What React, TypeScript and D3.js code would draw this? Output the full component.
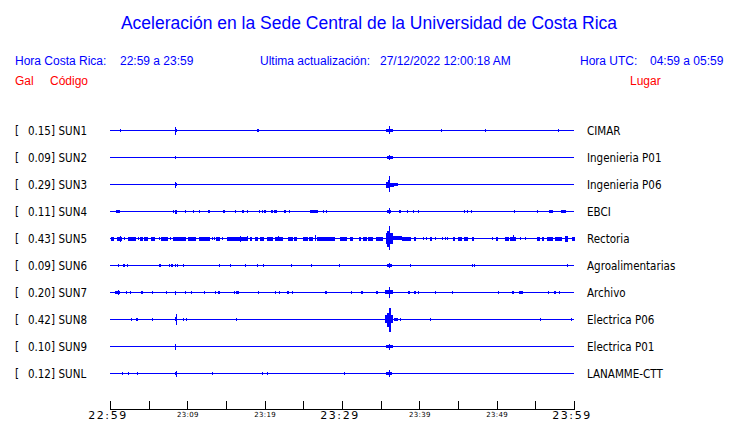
import React from "react";
import * as d3 from "d3";

const stations = ["SUN1", "SUN2", "SUN3", "SUN4", "SUN5", "SUN6", "SUN7", "SUN8", "SUN9", "SUNL"];
const peakGal = [0.15, 0.09, 0.29, 0.11, 0.43, 0.09, 0.2, 0.42, 0.1, 0.12];
const places = ["CIMAR", "Ingenieria P01", "Ingenieria P06", "EBCI", "Rectoria", "Agroalimentarias", "Archivo", "Electrica P06", "Electrica P01", "LANAMME-CTT"];
const tickMinutes = [0, 5, 10, 15, 20, 25, 30, 35, 40, 45, 50, 55, 60];
const tickLabels = ["22:59", "", "23:09", "", "23:19", "", "23:29", "", "23:39", "", "23:49", "", "23:59"];
const majorTicks = [0, 30, 60];

// events: [minutes after 22:59, amplitude (Gal), duration (minutes)]
type Ev = [number, number, number];
const sun1: Ev[] = [[1.34,0.04,0],[8.45,0.14,0],[8.6,0.05,0.15],[19.14,0.05,0.26],[35.9,0.06,0.3],[36.12,0.15,0.1],[36.3,0.06,0.5],[42.84,0.02,0],[48.53,0.05,0],[57.97,0.05,0]];
const sun2: Ev[] = [[8.45,0.04,0],[35.95,0.05,0.35],[36.12,0.09,0.12],[36.35,0.04,0.4]];
const sun3: Ev[] = [[8.45,0.1,0],[8.6,0.04,0.15],[35.9,0.1,0.5],[36.12,0.29,0.15],[36.1,0.15,0.3],[36.47,0.07,0.52],[36.98,0.04,0.52]];
const sun4: Ev[] = [[1.03,0.06,0.43],[8.1,0.05,0],[8.53,0.07,0.2],[9.74,0.02,0],[10.78,0.04,0],[11.47,0.04,0],[12.8,0.06,0.22],[14.74,0.06,0.22],[16.2,0.02,0],[17.24,0.06,0.26],[17.67,0.04,0],[19.31,0.04,0],[19.61,0.04,0],[19.87,0.04,0],[20.09,0.04,0],[20.9,0.06,0.26],[21.38,0.06,0.39],[22.63,0.06,0.26],[23.19,0.02,0],[26.34,0.06,1.03],[27.59,0.04,0],[27.89,0.04,0],[36.12,0.11,0.12],[36.1,0.06,0.6],[37.5,0.06,0.2],[38.49,0.05,0.2],[39.22,0.04,0],[39.83,0.04,0],[45.78,0.04,0],[46.12,0.04,0],[46.72,0.02,0],[52.33,0.06,0.2],[55.17,0.02,0],[56.98,0.06,0.5],[58.66,0.06,0.6]];
const sun5: Ev[] = [[0.3,0.07,0.34],[1.21,0.07,0.6],[1.25,0.1,0],[1.85,0.03,0],[2.84,0.07,1.03],[3.58,0.05,0],[4.09,0.07,0.34],[4.66,0.07,0.43],[5.54,0.07,0.56],[6.38,0.03,0],[7.07,0.07,0.95],[7.76,0.05,0],[8.97,0.07,1.64],[10.6,0.07,0.95],[12.22,0.07,1.5],[13.23,0.05,0],[13.45,0.05,0],[13.99,0.07,0.56],[14.53,0.05,0],[16.51,0.07,2.76],[16.85,0.1,0],[17.67,0.09,0],[18.23,0.07,0.17],[18.97,0.07,0.43],[19.68,0.07,0.56],[20.69,0.07,0.86],[21.88,0.07,1.08],[21.77,0.09,0],[23.38,0.07,0.65],[23.99,0.07,0.39],[25.28,0.07,0.56],[26.01,0.07,0.56],[26.51,0.11,0],[27.91,0.07,2.37],[30.09,0.07,0.6],[30.52,0.07,0.17],[31.25,0.07,0.43],[32.33,0.07,0.17],[32.97,0.07,0.43],[33.69,0.07,0.56],[34.87,0.07,0.95],[36.12,0.43,0.15],[36.05,0.28,0.35],[36.12,0.2,0.86],[37.18,0.08,1.08],[38.32,0.07,1.12],[39.48,0.07,0.26],[40.52,0.04,0],[40.86,0.04,0],[41.49,0.07,0.22],[42.03,0.04,0],[42.89,0.04,0],[43.32,0.04,0],[43.53,0.04,0],[44.5,0.07,0.22],[45.26,0.07,0.43],[46.06,0.07,0.56],[46.9,0.07,0.22],[49.35,0.04,0],[50.06,0.07,0.3],[51.34,0.07,0.43],[52.09,0.07,0.73],[52.09,0.11,0],[53.02,0.04,0],[53.66,0.04,0],[55.43,0.07,0.34],[55.97,0.07,0.3],[56.9,0.07,0.86],[58.0,0.07,0.86],[59.05,0.1,0.43],[59.91,0.07,0.43]];
const sun6: Ev[] = [[1.08,0.04,0],[1.83,0.05,0.22],[2.24,0.02,0],[6.47,0.05,0.17],[7.67,0.04,0],[8.0,0.05,0.22],[8.41,0.04,0],[8.66,0.04,0],[9.48,0.04,0],[14.14,0.02,0],[15.56,0.02,0],[17.5,0.03,0],[19.05,0.03,0],[19.83,0.03,0],[23.45,0.03,0],[26.03,0.03,0],[29.66,0.02,0],[36.12,0.09,0.12],[36.15,0.05,0.6],[38.84,0.03,0],[46.85,0.04,0],[47.07,0.04,0],[59.14,0.02,0]];
const sun7: Ev[] = [[0.97,0.06,0.65],[1.08,0.09,0],[2.11,0.02,0],[2.63,0.04,0],[4.12,0.05,0.22],[5.47,0.04,0],[7.28,0.04,0],[8.49,0.07,0.17],[9.74,0.02,0],[10.52,0.04,0],[12.2,0.04,0],[13.62,0.02,0],[14.12,0.05,0.22],[16.08,0.04,0],[16.47,0.06,0.34],[19.18,0.02,0],[21.38,0.04,0],[21.85,0.04,0],[23.0,0.05,0.22],[23.58,0.04,0],[27.91,0.05,0.22],[31.12,0.02,0],[32.54,0.05,0.26],[34.55,0.05,0.3],[36.12,0.2,0.12],[36.1,0.08,1.0],[38.66,0.05,0.26],[39.44,0.05,0.26],[39.83,0.03,0],[41.98,0.02,0],[44.27,0.04,0],[50.22,0.04,0],[52.11,0.05,0.26],[53.15,0.05,0.43],[56.68,0.04,0],[57.54,0.05,0.26],[58.1,0.04,0]];
const sun8: Ev[] = [[2.76,0.02,0],[3.47,0.05,0.22],[5.47,0.02,0],[8.49,0.19,0],[8.55,0.08,0.17],[9.48,0.05,0],[9.83,0.05,0],[16.34,0.02,0],[36.2,0.42,0.15],[36.1,0.25,0.5],[36.1,0.15,1.1],[37.0,0.06,0.6],[37.54,0.04,0],[41.38,0.02,0],[55.65,0.04,0],[59.66,0.02,0]];
const sun9: Ev[] = [[8.45,0.1,0],[36.12,0.1,0.15],[36.15,0.05,0.9]];
const sunl: Ev[] = [[1.59,0.04,0],[2.37,0.04,0],[3.53,0.04,0],[8.49,0.1,0],[8.55,0.05,0.2],[13.23,0.04,0],[19.7,0.02,0],[20.34,0.02,0],[30.3,0.04,0],[36.12,0.12,0.12],[36.1,0.06,0.7]];
const traces = [sun1, sun2, sun3, sun4, sun5, sun6, sun7, sun8, sun9, sunl];

const BLUE = "#0000ff";
const RED = "#ff0000";

export default function App() {
  const x = d3.scaleLinear().domain([0, 60]).range([110, 574]);
  const yRow = d3.scaleLinear().domain([0, 9]).range([130.5, 373.5]);
  const amp = d3.scaleLinear().domain([0, 1]).range([0, 28]);
  const axisY = 409.5;
  const sans = "'Liberation Sans', Arial, sans-serif";
  const dv = "'DejaVu Sans Condensed', 'DejaVu Sans', sans-serif";

  return (
    <svg width={740} height={423} style={{ position: "absolute", left: 0, top: 0, background: "#fff" }}>
      <rect width={740} height={423} fill="#fff" />
      <text x={369} y={29} textAnchor="middle" fontFamily={sans} fontSize={17.5} fill={BLUE}>
        Aceleración en la Sede Central de la Universidad de Costa Rica
      </text>
      <g fontFamily={sans} fontSize={12} fill={BLUE}>
        <text x={15} y={65}>Hora Costa Rica:</text>
        <text x={120} y={65}>22:59 a 23:59</text>
        <text x={260} y={65}>Ultima actualización:</text>
        <text x={380} y={65}>27/12/2022 12:00:18 AM</text>
        <text x={580} y={65}>Hora UTC:</text>
        <text x={650} y={65}>04:59 a 05:59</text>
      </g>
      <g fontFamily={sans} fontSize={12} fill={RED}>
        <text x={15} y={85}>Gal</text>
        <text x={50} y={85}>Código</text>
        <text x={630} y={85}>Lugar</text>
      </g>
      {stations.map((s, i) => {
        const yc = yRow(i);
        return (
          <g key={s}>
            <g fontFamily={dv} fontSize={11.5} fill="#000">
              <text x={15} y={yc + 4}>[</text>
              <text x={55} y={yc + 4} textAnchor="end">{peakGal[i].toFixed(2) + "]"}</text>
              <text x={58.5} y={yc + 4}>{s}</text>
              <text x={587} y={yc + 4}>{places[i]}</text>
            </g>
            <g shapeRendering="crispEdges" fill={BLUE}>
              <line x1={x(0)} x2={x(60)} y1={yc} y2={yc} stroke={BLUE} strokeWidth={1} />
              {traces[i].map((e, j) => {
                const x0 = Math.round(x(e[0] - e[2] / 2));
                const w = Math.max(1, Math.round(x(e[0] + e[2] / 2)) - x0);
                const h = Math.max(1.5, amp(e[1]));
                return <rect key={j} x={x0} y={Math.round(yc - h)} width={w} height={Math.round(2 * h)} />;
              })}
            </g>
          </g>
        );
      })}
      <g shapeRendering="crispEdges" stroke="#000" strokeWidth={1}>
        <line x1={x(0)} x2={x(60)} y1={axisY} y2={axisY} />
        {tickMinutes.map((m) => (
          <line key={m} x1={Math.round(x(m)) + 0.5} x2={Math.round(x(m)) + 0.5} y1={axisY} y2={axisY - 8.5} />
        ))}
      </g>
      <g fill="#000" fontFamily="'DejaVu Sans', sans-serif">
        {tickMinutes.map((m, i) =>
          tickLabels[i] === "" ? null : majorTicks.includes(m) ? (
            <text key={m} x={x(m) - 2} y={419} textAnchor="middle" fontSize={11} letterSpacing={1.6}>{tickLabels[i]}</text>
          ) : (
            <text key={m} x={x(m) + 0.5} y={417} textAnchor="middle" fontSize={7} letterSpacing={0.3}>{tickLabels[i]}</text>
          )
        )}
      </g>
    </svg>
  );
}
